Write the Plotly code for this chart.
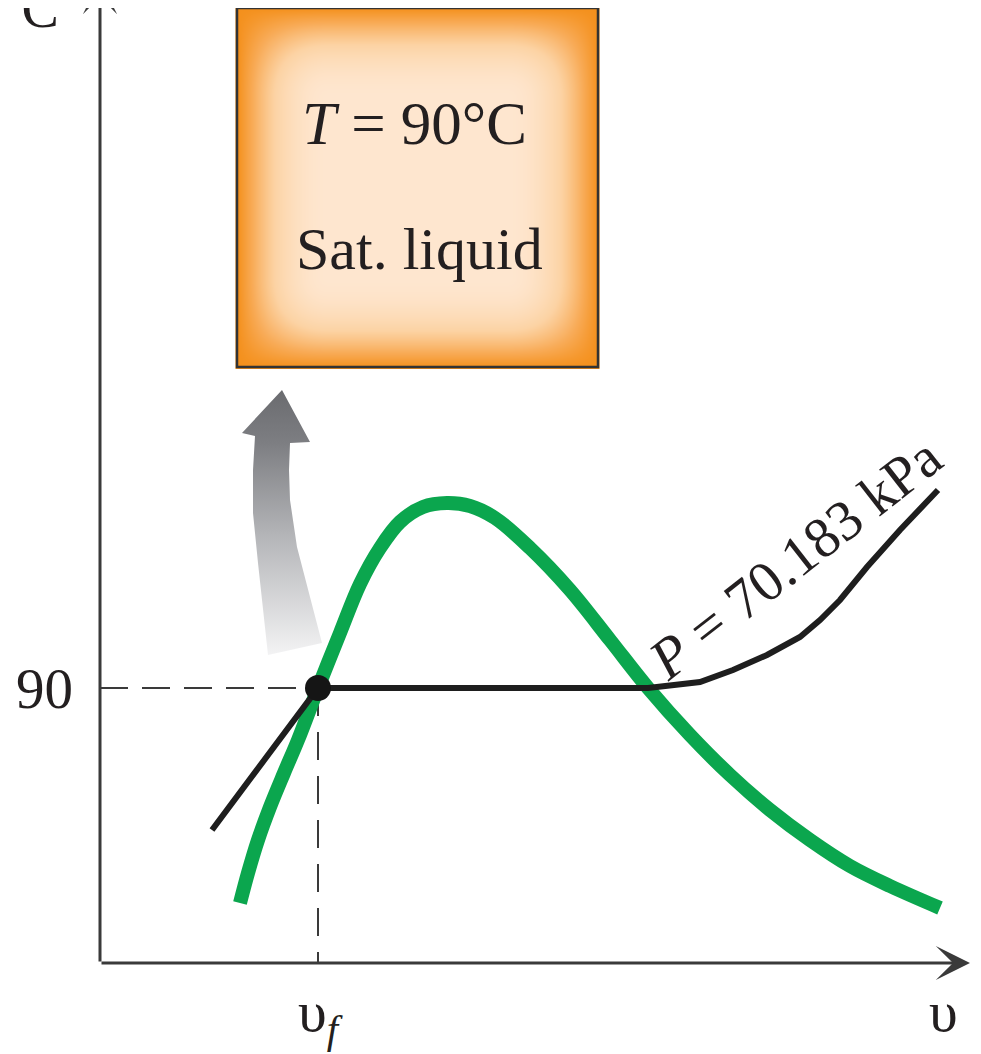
import numpy as np
import plotly.graph_objects as go

# ---- data (chart units: v to the right, T upward; origin at axis corner) ----
dome_v = [140, 148, 158, 170, 184, 198, 218, 240, 260, 280, 300, 323, 347, 370, 395, 430, 470, 510, 548, 590, 630, 670, 710, 750, 790, 840]
dome_T = [60, 90, 123, 156, 190, 223, 275, 330, 379, 415, 441, 456, 460, 457, 445, 415, 373, 323, 275, 228, 188, 153, 123, 97, 77, 55]

isobar_v = [112, 218, 548, 570, 600, 633, 667, 700, 720, 740, 767, 800, 838]
isobar_T = [133, 275, 275, 277, 281, 293, 308, 326, 343, 363, 396, 433, 473]

v_f = 218
T_sat = 275

arrow_v = [182, 210, 190, 189, 190, 197, 210, 222, 168, 163, 158, 153, 153, 155, 142, 182]
arrow_T = [573, 521, 520, 493, 463, 416, 366, 320, 308, 353, 400, 450, 493, 527, 530, 573]

box_v = [137, 498]
box_T = [596, 955]

tick_T_label = "90"
label_T_box = "<i>T</i> = 90°C"
label_state = "Sat. liquid"
label_P = "<i>P</i> = 70.183 kPa"
label_vf = "υ<sub><i>f</i></sub>"
label_v = "υ"
label_Taxis = "<i>T</i>, °C"

FONT = "Liberation Serif"
AX = "#3a3a3a"
TXT = "#231f20"

fig = go.Figure()

# box background gradient (styling only)
bx = np.linspace(box_v[0], box_v[1], 121)
by = np.linspace(box_T[0], box_T[1], 121)
def ease(d):
    t = np.clip(d / 90.0, 0, 1)
    return 1 - (1 - t) ** 2
dx = np.minimum(bx - box_v[0], box_v[1] - bx)
dy = np.minimum(by - box_T[0], box_T[1] - by)
Z = np.outer(ease(dy), ease(dx))
fig.add_trace(go.Heatmap(
    x=bx, y=by, z=Z, zsmooth="best", showscale=False, hoverinfo="skip",
    zmin=0, zmax=1,
    colorscale=[[0, "#f4901c"], [0.3, "#f8ab57"], [0.65, "#fcd3a4"], [1, "#fee6cf"]],
))

# gray curved arrow
fig.add_trace(go.Scatter(
    x=arrow_v, y=arrow_T, mode="lines", fill="toself", line=dict(width=0, color="rgba(0,0,0,0)"),
    fillgradient=dict(type="vertical", colorscale=[[0, "#f3f3f4"], [0.45, "#b4b5b8"], [0.8, "#7d7e82"], [1, "#6a6b6f"]]),
    hoverinfo="skip",
))

# dashed guide lines
fig.add_trace(go.Scatter(x=[0, v_f], y=[T_sat, T_sat], mode="lines",
                         line=dict(color=AX, width=2, dash="28px,14px"), hoverinfo="skip"))
fig.add_trace(go.Scatter(x=[v_f, v_f], y=[T_sat, 0], mode="lines",
                         line=dict(color=AX, width=2, dash="28px,16px"), hoverinfo="skip"))

# saturation dome
fig.add_trace(go.Scatter(x=dome_v, y=dome_T, mode="lines", line=dict(color="#0ba64e", width=14, shape="spline", smoothing=1.0),
                         hoverinfo="skip"))
# isobar
fig.add_trace(go.Scatter(x=isobar_v, y=isobar_T, mode="lines", line=dict(color="#1e1e1e", width=6),
                         hoverinfo="skip"))
# state point
fig.add_trace(go.Scatter(x=[v_f], y=[T_sat], mode="markers", marker=dict(color="#151515", size=26), hoverinfo="skip"))

# box border
fig.add_shape(type="rect", x0=box_v[0], x1=box_v[1], y0=box_T[0], y1=box_T[1],
              line=dict(color="#333333", width=2.5), fillcolor="rgba(0,0,0,0)", layer="above")

ann = []
# axes with arrowheads
ann.append(dict(x=870, y=0, ax=0, ay=0, xref="x", yref="y", axref="x", ayref="y", text="",
                showarrow=True, arrowhead=3, arrowsize=1.9, arrowwidth=3, arrowcolor=AX))
ann.append(dict(x=0, y=983, ax=0, ay=0, xref="x", yref="y", axref="x", ayref="y", text="",
                showarrow=True, arrowhead=3, arrowsize=1.9, arrowwidth=3, arrowcolor=AX))

ann.append(dict(x=-56, y=T_sat, xref="x", yref="y", text=tick_T_label, showarrow=False,
                font=dict(family=FONT, size=57, color=TXT), xanchor="center", yanchor="middle"))
ann.append(dict(x=v_f + 2, y=-52, xref="x", yref="y", text=label_vf, showarrow=False,
                font=dict(family=FONT, size=58, color=TXT), xanchor="center", yanchor="middle"))
ann.append(dict(x=843, y=-48, xref="x", yref="y", text=label_v, showarrow=False,
                font=dict(family=FONT, size=58, color=TXT), xanchor="center", yanchor="middle"))
ann.append(dict(x=-39, y=922, xref="x", yref="y", text=label_Taxis, showarrow=False,
                font=dict(family=FONT, size=56, color=TXT), xanchor="right", yanchor="bottom"))
ann.append(dict(x=314, y=840, xref="x", yref="y", text=label_T_box, showarrow=False,
                font=dict(family=FONT, size=61, color=TXT), xanchor="center", yanchor="middle"))
ann.append(dict(x=319, y=714, xref="x", yref="y", text=label_state, showarrow=False,
                font=dict(family=FONT, size=60, color=TXT), xanchor="center", yanchor="middle"))
ann.append(dict(x=694, y=405, xref="x", yref="y", text=label_P, showarrow=False, textangle=-38,
                font=dict(family=FONT, size=57, color=TXT), xanchor="center", yanchor="middle"))

# page body has an 8px margin: shrink figure and shift ranges so marks sit at the same screen pixels
fig.update_layout(
    width=973, height=1046, margin=dict(l=0, r=0, t=0, b=0),
    paper_bgcolor="white", plot_bgcolor="white", showlegend=False,
    xaxis=dict(range=[-92, 881], visible=False, fixedrange=True),
    yaxis=dict(range=[-91, 955], visible=False, fixedrange=True),
    annotations=ann,
)
fig.write_html("out.html")
